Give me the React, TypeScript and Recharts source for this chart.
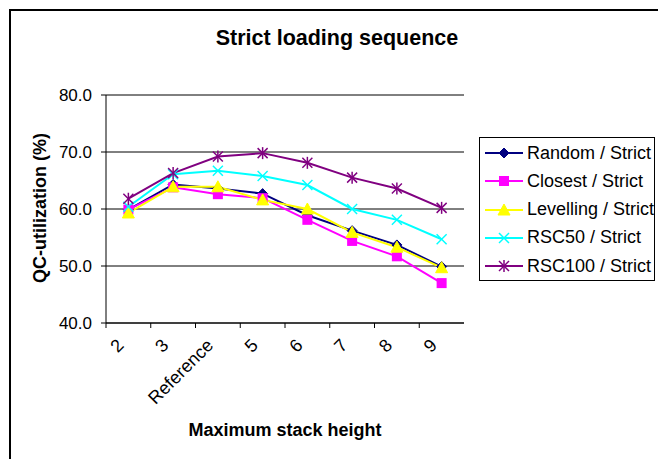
import React from "react";
import { CartesianGrid, Legend, Line, LineChart, XAxis, YAxis } from "recharts";

const categories = ["2", "3", "Reference", "5", "6", "7", "8", "9"];
const randomStrict = [59.9, 64.3, 63.6, 62.7, 58.9, 56.2, 53.7, 49.9];
const closestStrict = [59.9, 63.8, 62.6, 61.9, 58.1, 54.4, 51.7, 47.0];
const levellingStrict = [59.3, 63.9, 63.9, 61.6, 60.0, 55.9, 53.3, 49.7];
const rsc50Strict = [60.4, 66.1, 66.7, 65.8, 64.2, 60.0, 58.1, 54.7];
const rsc100Strict = [61.8, 66.3, 69.2, 69.8, 68.1, 65.5, 63.6, 60.2];
const yTicks = [40, 50, 60, 70, 80];

const data = categories.map((cat, i) => ({
  cat,
  random: randomStrict[i],
  closest: closestStrict[i],
  levelling: levellingStrict[i],
  rsc50: rsc50Strict[i],
  rsc100: rsc100Strict[i],
}));

const font = "'Liberation Sans', Arial, sans-serif";
const chartW = 658;
const chartH = 459;
const margin = { top: 95, right: 194, left: 46, bottom: 76 };
const yAxisW = 60;
// half a category band: excel puts the x tick marks between categories
const halfBand = (chartW - margin.left - yAxisW - margin.right) / categories.length / 2;

type Shape = "diamond" | "square" | "triangle" | "cross" | "star";

function Marker({ cx, cy, shape, color }: { cx: number; cy: number; shape: Shape; color: string }) {
  if (cx == null || cy == null) return null;
  switch (shape) {
    case "diamond":
      return <polygon points={`${cx},${cy - 5} ${cx + 5},${cy} ${cx},${cy + 5} ${cx - 5},${cy}`} fill={color} stroke={color} />;
    case "square":
      return <rect x={cx - 5} y={cy - 5} width={10} height={10} fill={color} />;
    case "triangle":
      return <polygon points={`${cx},${cy - 6} ${cx + 6},${cy + 5} ${cx - 6},${cy + 5}`} fill={color} stroke={color} />;
    case "cross":
      return (
        <g stroke={color} strokeWidth={1.5}>
          <line x1={cx - 5} y1={cy - 5} x2={cx + 5} y2={cy + 5} />
          <line x1={cx - 5} y1={cy + 5} x2={cx + 5} y2={cy - 5} />
        </g>
      );
    default:
      return (
        <g stroke={color} strokeWidth={1.5}>
          <line x1={cx - 5} y1={cy - 5} x2={cx + 5} y2={cy + 5} />
          <line x1={cx - 5} y1={cy + 5} x2={cx + 5} y2={cy - 5} />
          <line x1={cx} y1={cy - 6} x2={cx} y2={cy + 6} />
        </g>
      );
  }
}

const series: { key: string; name: string; color: string; shape: Shape }[] = [
  { key: "random", name: "Random / Strict", color: "#000080", shape: "diamond" },
  { key: "closest", name: "Closest / Strict", color: "#ff00ff", shape: "square" },
  { key: "levelling", name: "Levelling / Strict", color: "#ffff00", shape: "triangle" },
  { key: "rsc50", name: "RSC50 / Strict", color: "#00ffff", shape: "cross" },
  { key: "rsc100", name: "RSC100 / Strict", color: "#800080", shape: "star" },
];

function XTick(props: any) {
  const { x, y, payload } = props;
  return (
    <text
      transform={`translate(${x - 8},${y + 14}) rotate(-45)`}
      textAnchor="end"
      dy="0.35em"
      fontSize={18}
      fontFamily={font}
      fill="#000"
    >
      {payload.value}
    </text>
  );
}

function LegendBox() {
  return (
    <div style={{ border: "1px solid #000", width: 174, height: 142, background: "#fff", fontFamily: font, fontSize: 18 }}>
      {series.map((s, i) => (
        <div key={s.key} style={{ position: "absolute", left: 6, top: 4 + i * 28.3, height: 24, display: "flex", alignItems: "center" }}>
          <svg width={40} height={24}>
            <line x1={0} y1={12} x2={38} y2={12} stroke={s.color} strokeWidth={2} />
            <Marker cx={19} cy={12} shape={s.shape} color={s.color} />
          </svg>
          <span style={{ marginLeft: 2, whiteSpace: "nowrap" }}>{s.name}</span>
        </div>
      ))}
    </div>
  );
}

export default function App() {
  return (
    <div style={{ position: "absolute", left: 0, top: 0, width: chartW, height: chartH, background: "#fff", fontFamily: font }}>
      <div style={{ position: "absolute", left: 9, top: 9, width: 649, height: 450, borderTop: "2px solid #000", borderLeft: "2px solid #000" }} />
      <div style={{ position: "absolute", left: 0, top: 26, width: 674, textAlign: "center", fontWeight: "bold", fontSize: 21.5 }}>
        Strict loading sequence
      </div>
      <div
        style={{
          position: "absolute",
          left: 40,
          top: 208,
          transform: "translate(-50%, -50%) rotate(-90deg)",
          fontWeight: "bold",
          fontSize: 18,
          whiteSpace: "nowrap",
        }}
      >
        QC-utilization (%)
      </div>
      <div style={{ position: "absolute", left: 0, top: 420, width: 570, textAlign: "center", fontWeight: "bold", fontSize: 18 }}>
        Maximum stack height
      </div>
      <div style={{ position: "absolute", left: 0, top: 0 }}>
        <LineChart width={chartW} height={chartH} data={data} margin={margin}>
          <CartesianGrid vertical={false} stroke="#000" strokeOpacity={1} />
          <XAxis
            dataKey="cat"
            scale="band"
            height={60}
            stroke="#000"
            tickLine={{ stroke: "#000", transform: `translate(${-halfBand},0)` }}
            tickSize={5}
            tickMargin={0}
            tick={<XTick />}
            interval={0}
          />
          <XAxis dataKey="cat" xAxisId="top" scale="band" orientation="top" height={0} stroke="#909090" tick={false} tickLine={false} />
          <YAxis
            width={yAxisW}
            domain={[40, 80]}
            ticks={yTicks}
            stroke="#000"
            tickSize={5}
            tickMargin={9}
            tickFormatter={(v: number) => v.toFixed(1)}
            tick={{ fill: "#000", fontSize: 17, fontFamily: font }}
          />
          <YAxis
            yAxisId="right"
            orientation="right"
            width={0}
            domain={[40, 80]}
            stroke="#909090"
            tick={false}
            tickLine={false}
          />
          {series.map((s) => (
            <Line
              key={s.key}
              type="linear"
              dataKey={s.key}
              name={s.name}
              stroke={s.color}
              strokeWidth={2}
              dot={(p: any) => <Marker key={`${s.key}-${p.index}`} cx={p.cx} cy={p.cy} shape={s.shape} color={s.color} />}
              activeDot={false}
              isAnimationActive={false}
            />
          ))}
          <Legend
            layout="vertical"
            align="center"
            verticalAlign="middle"
            wrapperStyle={{ left: 479, top: 137, width: 176, height: 144 }}
            content={() => <LegendBox />}
          />
        </LineChart>
      </div>
    </div>
  );
}
